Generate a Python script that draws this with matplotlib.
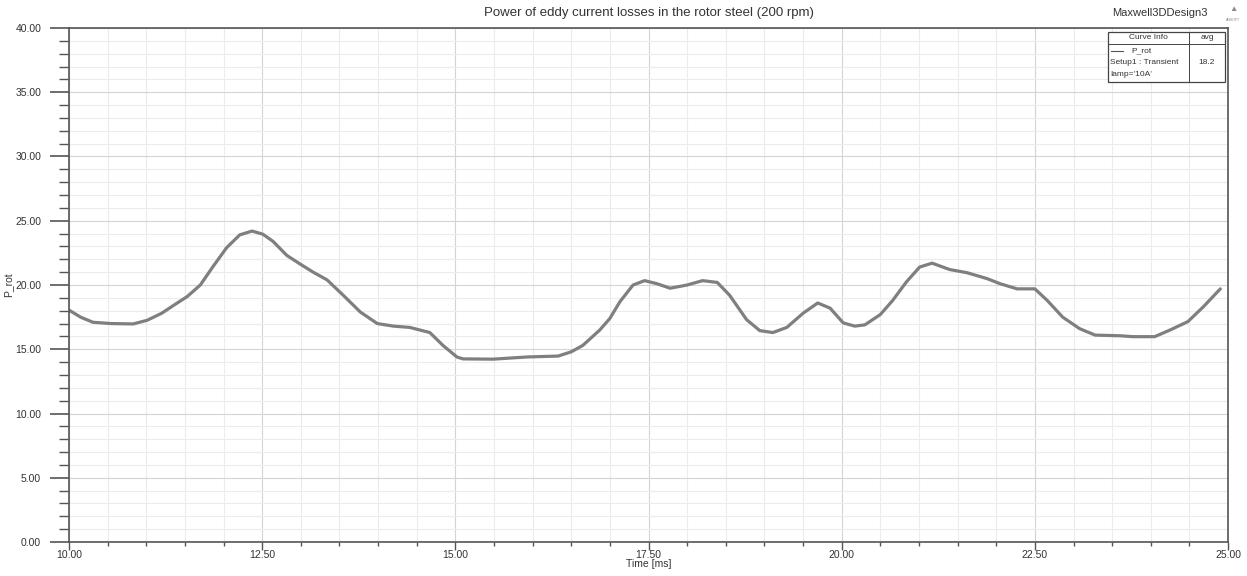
import matplotlib.pyplot as plt
from matplotlib.ticker import MultipleLocator, FormatStrFormatter
from matplotlib.patches import Rectangle
from matplotlib.lines import Line2D

plt.rcParams['font.family'] = ['Liberation Sans', 'DejaVu Sans']

# Daten
time_ms = [10.0, 10.15, 10.31, 10.55, 10.83, 11.01, 11.2, 11.35, 11.53, 11.7,
           11.86, 12.04, 12.21, 12.37, 12.51, 12.64, 12.82, 13.0, 13.16, 13.34,
           13.55, 13.77, 13.99, 14.2, 14.41, 14.67, 14.84, 15.02, 15.1, 15.49,
           15.93, 16.33, 16.5, 16.65, 16.87, 17.0, 17.13, 17.3, 17.45, 17.61,
           17.78, 18.0, 18.2, 18.39, 18.55, 18.77, 18.94, 19.11, 19.29, 19.5,
           19.69, 19.85, 20.02, 20.17, 20.3, 20.5, 20.66, 20.84, 21.01, 21.17,
           21.4, 21.62, 21.88, 22.05, 22.27, 22.5, 22.66, 22.86, 23.08, 23.28,
           23.6, 23.77, 24.05, 24.25, 24.48, 24.68, 24.9]
p_rot = [18.05, 17.5, 17.1, 17.0, 16.97, 17.25, 17.8, 18.4, 19.1, 20.0,
         21.4, 22.9, 23.9, 24.2, 23.95, 23.4, 22.3, 21.6, 21.0, 20.4,
         19.2, 17.9, 17.0, 16.8, 16.7, 16.3, 15.3, 14.4, 14.25, 14.23,
         14.4, 14.47, 14.8, 15.3, 16.5, 17.4, 18.7, 20.0, 20.34, 20.1,
         19.75, 20.0, 20.34, 20.2, 19.2, 17.3, 16.45, 16.3, 16.7, 17.8,
         18.6, 18.2, 17.05, 16.8, 16.9, 17.7, 18.8, 20.26, 21.4, 21.7,
         21.2, 20.96, 20.5, 20.1, 19.7, 19.7, 18.8, 17.5, 16.6, 16.1,
         16.05, 15.98, 15.98, 16.5, 17.15, 18.3, 19.7]
avg_value = '18.2'

fig = plt.figure(figsize=(12.47, 5.76), dpi=100)
ax = fig.add_axes([0.0553, 0.059, 0.9295, 0.8924])

ax.plot(time_ms, p_rot, color='#7f7f7f', linewidth=2.3,
        solid_capstyle='round', solid_joinstyle='round')

ax.set_xlim(10, 25)
ax.set_ylim(0, 40)
ax.xaxis.set_major_locator(MultipleLocator(2.5))
ax.xaxis.set_minor_locator(MultipleLocator(0.5))
ax.yaxis.set_major_locator(MultipleLocator(5))
ax.yaxis.set_minor_locator(MultipleLocator(1))
ax.xaxis.set_major_formatter(FormatStrFormatter('%.2f'))
ax.yaxis.set_major_formatter(FormatStrFormatter('%.2f'))

ax.grid(which='major', color='#d4d4d4', linewidth=0.8)
ax.grid(which='minor', color='#ececec', linewidth=0.8)
ax.set_axisbelow(True)

for s in ax.spines:
    ax.spines[s].set_color('#555555')
    ax.spines[s].set_linewidth(1.2)

ax.tick_params(axis='y', which='major', length=14, width=1.2, color='#555555',
               labelsize=7.5, labelcolor='#333333', pad=6)
ax.tick_params(axis='y', which='minor', length=7, width=1.0, color='#555555')
ax.tick_params(axis='x', which='major', length=6, width=1.0, color='#555555',
               labelsize=7.5, labelcolor='#333333', pad=0)
ax.tick_params(axis='x', which='minor', length=3, width=1.0, color='#555555')

ax.set_xlabel('Time [ms]', fontsize=7.5, color='#333333')
ax.xaxis.set_label_coords(0.5, -0.034)
ax.set_ylabel('P_rot', fontsize=7.5, color='#333333')
ax.yaxis.set_label_coords(-0.048, 0.5)

fig.text(0.52, 0.978, 'Power of eddy current losses in the rotor steel (200 rpm)',
         ha='center', va='center', fontsize=9.5, color='#333333')
fig.text(1208 / 1247, 0.978, 'Maxwell3DDesign3', ha='right', va='center',
         fontsize=8, color='#333333')
fig.text(1233 / 1247, 0.984, '\u25b2', ha='center', va='center', fontsize=6, color='#888888')
fig.text(1233 / 1247, 0.966, 'ANSOFT', ha='center', va='center', fontsize=2.5, color='#888888')

# Legenden-Tabelle
W, H = 1247.0, 576.0
x0, x1, xm = 1108 / W, 1225 / W, 1189 / W
y_top, y_hdr, y_bot = 1 - 32 / H, 1 - 43.5 / H, 1 - 82 / H
fig.patches.append(Rectangle((x0, y_bot), x1 - x0, y_top - y_bot, transform=fig.transFigure,
                             facecolor='white', edgecolor='#444444', linewidth=0.9))
fig.lines.append(Line2D([x0, x1], [y_hdr, y_hdr], transform=fig.transFigure,
                        color='#444444', linewidth=0.7))
fig.lines.append(Line2D([xm, xm], [y_bot, y_top], transform=fig.transFigure,
                        color='#444444', linewidth=0.7))
fig.text((x0 + xm) / 2, (y_top + y_hdr) / 2, 'Curve Info', ha='center', va='center',
         fontsize=6, color='#333333')
fig.text((xm + x1) / 2, (y_top + y_hdr) / 2, 'avg', ha='center', va='center',
         fontsize=6, color='#333333')
fig.lines.append(Line2D([1111 / W, 1123 / W], [1 - 51 / H, 1 - 51 / H],
                        transform=fig.transFigure, color='#555555', linewidth=0.8))
fig.text(1131 / W, 1 - 51 / H, 'P_rot', ha='left', va='center', fontsize=6, color='#333333')
fig.text(1110 / W, 1 - 63 / H, 'Setup1 : Transient', ha='left', va='center',
         fontsize=6, color='#333333')
fig.text(1110 / W, 1 - 74 / H, "Iamp='10A'", ha='left', va='center',
         fontsize=6, color='#333333')
fig.text((xm + x1) / 2, 1 - 63 / H, avg_value, ha='center', va='center',
         fontsize=6, color='#333333')

fig.savefig('out.png', dpi=100)
